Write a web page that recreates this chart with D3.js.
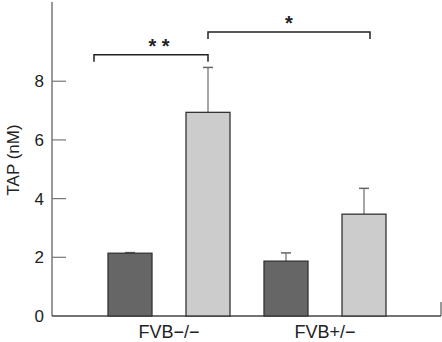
<!DOCTYPE html>
<html>
<head>
<meta charset="utf-8">
<script src="https://cdn.jsdelivr.net/npm/d3@7"></script>
<style>
  body { margin: 0; background: #fff; }
  text { font-family: "Liberation Sans", "DejaVu Sans", sans-serif; }
</style>
</head>
<body>
<div id="chart"></div>
<script>
// groups and series
var groups = ["FVB\u2212/\u2212", "FVB+/\u2212"];
var series = ["dark", "light"];
var darkValues = [2.14, 1.87];
var lightValues = [6.94, 3.47];
var darkErrors = [0.02, 0.28];
var lightErrors = [1.53, 0.88];
var yTicks = [0, 2, 4, 6, 8];
var sigLabels = ["* *", "*"];

var width = 442, height = 342;
var axisX = 52, axisRight = 441;
var colors = { dark: "#666666", light: "#cccccc" };

var svg = d3.select("#chart")
    .append("svg")
    .attr("width", width)
    .attr("height", height);

var y = d3.scaleLinear().domain([0, 10.7]).range([316, 2]);

var x0 = d3.scaleBand().domain(groups).range([91, 403]).paddingInner(0);
var x1 = d3.scaleBand().domain(series).range([17, 139]).paddingInner(34 / 78);

// y-axis
svg.append("line")
    .attr("x1", axisX).attr("x2", axisX)
    .attr("y1", y(10.7)).attr("y2", y(0))
    .attr("stroke", "#555").attr("stroke-width", 1.2);

svg.selectAll(".ytick")
    .data(yTicks.filter(function (d) { return d > 0; }))
    .enter().append("line")
    .attr("x1", axisX).attr("x2", axisX + 14)
    .attr("y1", function (d) { return y(d); })
    .attr("y2", function (d) { return y(d); })
    .attr("stroke", "#777").attr("stroke-width", 1.2);

svg.selectAll(".ylab")
    .data(yTicks)
    .enter().append("text")
    .attr("x", 44)
    .attr("y", function (d) { return y(d); })
    .attr("dy", "0.36em")
    .attr("text-anchor", "end")
    .style("font-size", "17px")
    .style("fill", "#222")
    .text(function (d) { return d; });

svg.append("text")
    .attr("transform", "translate(19,160) rotate(-90)")
    .attr("text-anchor", "middle")
    .style("font-size", "17px")
    .style("fill", "#222")
    .text("TAP (nM)");

// x-axis
svg.append("line")
    .attr("x1", axisX).attr("x2", axisRight)
    .attr("y1", y(0)).attr("y2", y(0))
    .attr("stroke", "#444").attr("stroke-width", 1.3);
svg.append("line")
    .attr("x1", axisRight).attr("x2", axisRight)
    .attr("y1", y(0)).attr("y2", y(0) - 14)
    .attr("stroke", "#555").attr("stroke-width", 1.2);

svg.selectAll(".xlab")
    .data(groups)
    .enter().append("text")
    .attr("x", function (d) { return x0(d) + x0.bandwidth() / 2; })
    .attr("y", 338)
    .attr("text-anchor", "middle")
    .style("font-size", "18px")
    .style("fill", "#222")
    .text(function (d) { return d; });

// bars
var rows = [];
groups.forEach(function (g, i) {
    rows.push({ g: g, s: "dark", v: darkValues[i], e: darkErrors[i] });
    rows.push({ g: g, s: "light", v: lightValues[i], e: lightErrors[i] });
});

function cx(d) { return x0(d.g) + x1(d.s) + x1.bandwidth() / 2; }

// error bars
svg.selectAll(".err")
    .data(rows)
    .enter().append("line")
    .attr("x1", cx).attr("x2", cx)
    .attr("y1", function (d) { return y(d.v); })
    .attr("y2", function (d) { return y(d.v + d.e); })
    .attr("stroke", "#888").attr("stroke-width", 1.5);

svg.selectAll(".cap")
    .data(rows)
    .enter().append("line")
    .attr("x1", function (d) { return cx(d) - 5; })
    .attr("x2", function (d) { return cx(d) + 5; })
    .attr("y1", function (d) { return y(d.v + d.e); })
    .attr("y2", function (d) { return y(d.v + d.e); })
    .attr("stroke", "#666").attr("stroke-width", 1.5);

svg.selectAll(".bar")
    .data(rows)
    .enter().append("rect")
    .attr("x", function (d) { return x0(d.g) + x1(d.s); })
    .attr("y", function (d) { return y(d.v); })
    .attr("width", x1.bandwidth())
    .attr("height", function (d) { return y(0) - y(d.v); })
    .style("fill", function (d) { return colors[d.s]; })
    .attr("stroke", "#333").attr("stroke-width", 1.3);

// significance brackets
var brackets = [
    { x1: 94, x2: cx(rows[1]), yv: 8.9, label: sigLabels[0] },
    { x1: cx(rows[1]), x2: 370, yv: 9.68, label: sigLabels[1] }
];
brackets.forEach(function (b) {
    var yy = y(b.yv);
    svg.append("path")
        .attr("d", "M" + b.x1 + "," + (yy + 7) + "V" + yy + "H" + b.x2 + "V" + (yy + 7))
        .attr("fill", "none")
        .attr("stroke", "#222").attr("stroke-width", 1.5);
    svg.append("text")
        .attr("x", (b.x1 + b.x2) / 2 + (b.label.length > 1 ? 8 : 0))
        .attr("y", yy - 2)
        .attr("text-anchor", "middle")
        .style("font-size", "20px")
        .style("font-weight", "bold")
        .style("fill", "#222")
        .text(b.label);
});
</script>
</body>
</html>
